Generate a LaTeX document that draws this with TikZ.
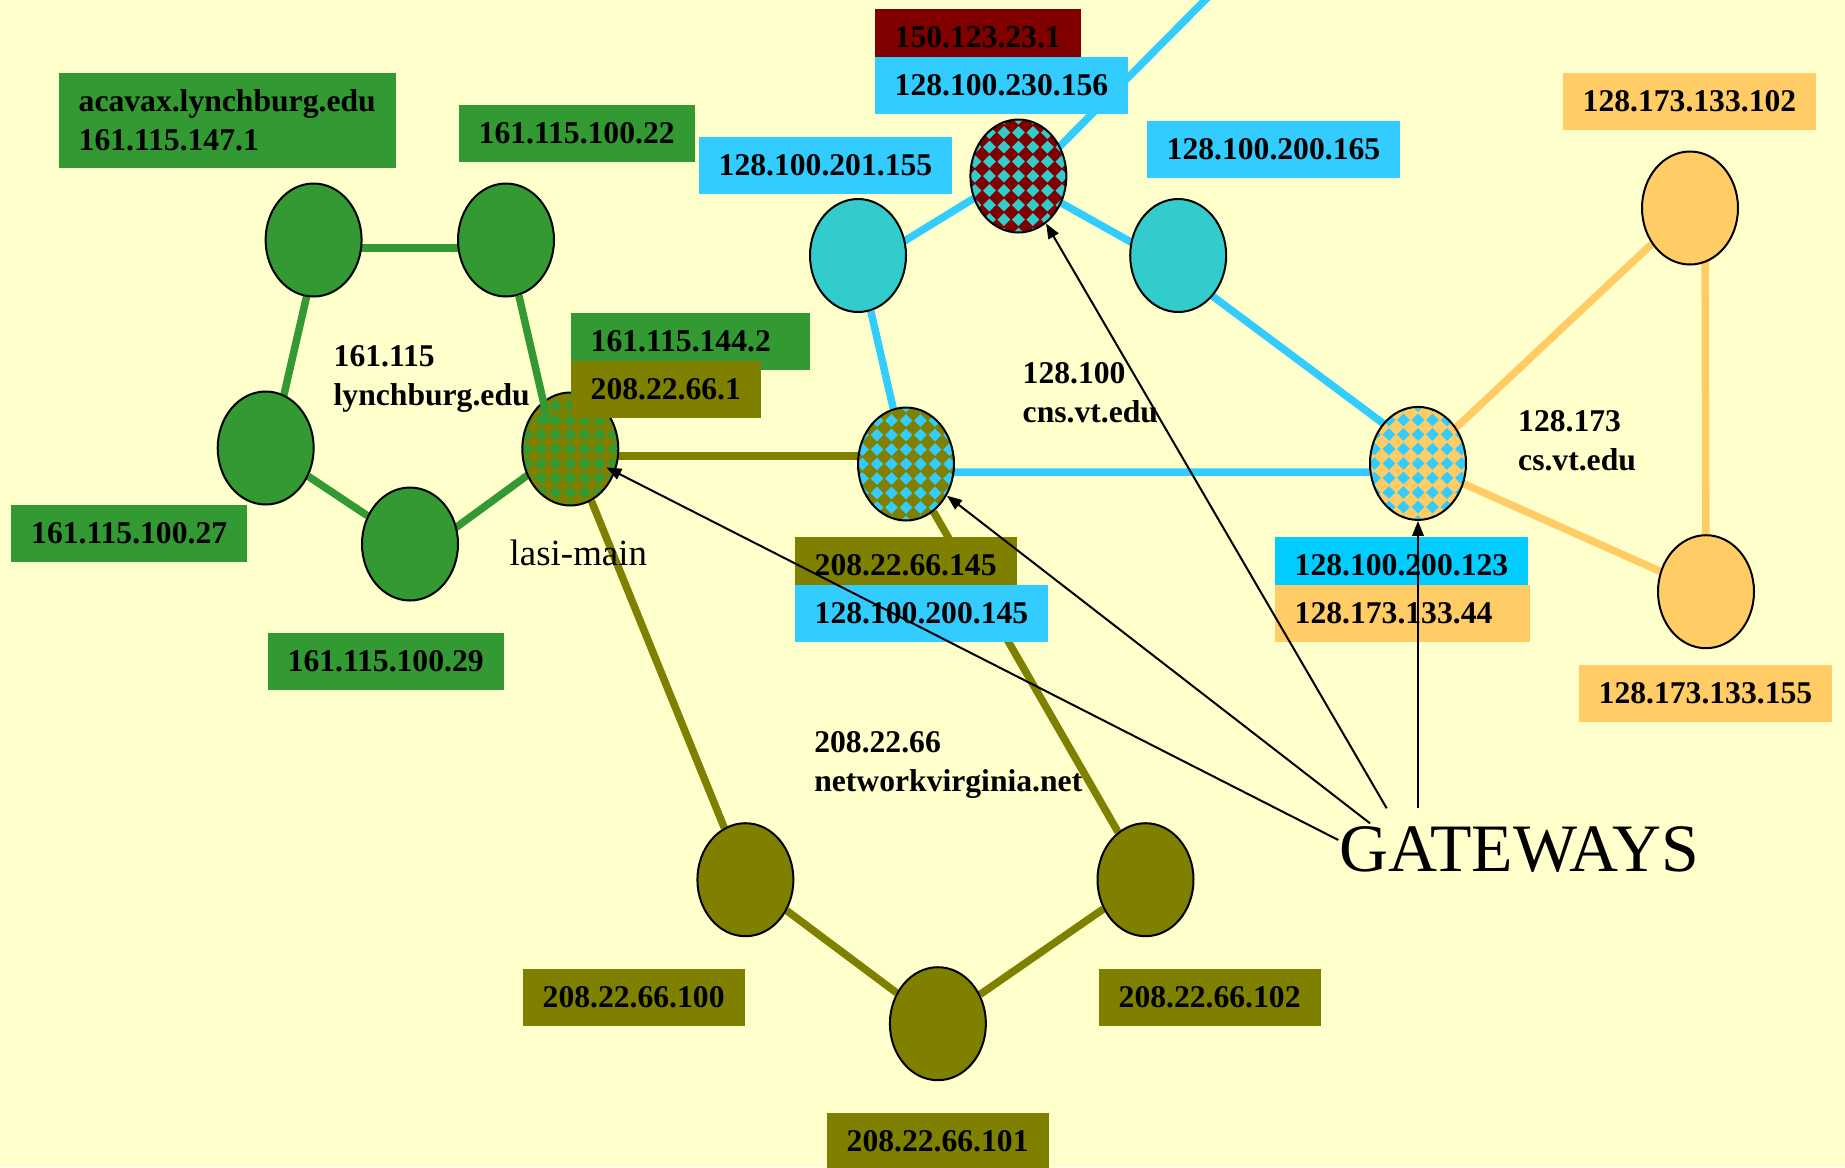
\documentclass[tikz,border=0pt]{standalone}
\usepackage{fontspec}
\setmainfont{Liberation Serif}
\usetikzlibrary{shapes.geometric,arrows.meta,calc}
\pgfdeclarelayer{background}
\pgfsetlayers{background,main}

\definecolor{paper}{HTML}{FFFFCC}
\definecolor{netgreen}{HTML}{339933}
\definecolor{netolive}{HTML}{808000}
\definecolor{netcyan}{HTML}{33CCFF}
\definecolor{netteal}{HTML}{33CCCC}
\definecolor{netmaroon}{HTML}{800000}
\definecolor{netorange}{HTML}{FFCC66}
\definecolor{netsky}{HTML}{00CCFF}

\tikzset{
  host/.style={ellipse, draw=black, line width=0.2mm, minimum width=9.6mm,
    minimum height=11.3mm, inner sep=0pt},
  checker/.style 2 args={host, fill=#1, path picture={
    \begin{scope}[shift={(path picture bounding box.center)}]
      \foreach \i in {-4,...,4} \foreach \j in {-5,...,5} {
        \fill[#2] (\i*1.45mm,\j*1.45mm) +(0,0.64mm) -- +(0.64mm,0)
          -- +(0,-0.64mm) -- +(-0.64mm,0) -- cycle;
      }
    \end{scope}}},
  link/.style={draw=#1, line width=0.75mm},
  pointer/.style={draw=black, line width=0.2mm,
    -{Triangle[length=1.5mm,width=1.15mm]}},
  addr/.style={fill=#1, anchor=north west, inner xsep=2mm, inner ysep=0pt,
    minimum height=5.7mm, font=\bfseries\fontsize{9}{11.1}\selectfont},
  netname/.style={anchor=north west, inner sep=0pt, align=left,
    font=\bfseries\fontsize{9}{11.1}\selectfont},
}

\begin{document}
\begin{tikzpicture}[x=0.1mm,y=-0.1mm]
\useasboundingbox (0,0) rectangle (1845,1167);
\clip (0,0) rectangle (1845,1167);

% hosts of lynchburg.edu
\node[host, fill=netgreen] (G1) at (313.6,240) {};
\node[host, fill=netgreen] (G2) at (506,240) {};
\node[host, fill=netgreen] (G3) at (265.7,448) {};
\node[host, fill=netgreen] (G4) at (410,544) {};
\node[checker={netolive}{netgreen}] (lasi) at (570.3,449) {};

% hosts of cns.vt.edu
\node[host, fill=netteal] (C1) at (858,255.5) {};
\node[checker={netmaroon}{netteal}] (C2) at (1018.4,176) {};
\node[host, fill=netteal] (C3) at (1178.2,255.5) {};
\node[checker={netolive}{netcyan}] (oc) at (906,464) {};
\node[checker={netorange}{netcyan}] (ocs) at (1418,463.4) {};

% hosts of cs.vt.edu
\node[host, fill=netorange] (O1) at (1690,208) {};
\node[host, fill=netorange] (O2) at (1706,591.7) {};

% hosts of networkvirginia.net
\node[host, fill=netolive] (V1) at (745.4,879.7) {};
\node[host, fill=netolive] (V2) at (937.9,1023.7) {};
\node[host, fill=netolive] (V3) at (1145.5,879.7) {};

\coordinate (uplink) at (1215,-10);

\begin{pgfonlayer}{background}
  \fill[paper] (0,0) rectangle (1845,1167);
  % lynchburg.edu ring
  \draw[link=netgreen] ($(G1)+(0,8)$) -- ($(G2)+(0,8)$);
  \draw[link=netgreen] ($(G1)+(6,0)$) -- ($(G3)+(6,0)$);
  \draw[link=netgreen] (G3) -- (G4);
  \draw[link=netgreen] ($(G4)+(0,17)$) -- ($(lasi)+(0,-5)$);
  % networkvirginia.net
  \draw[link=netolive] ($(lasi)+(0,7)$) -- ($(oc)+(0,-8)$);
  \draw[link=netolive] (lasi) -- (V1);
  \draw[link=netolive] (oc) -- (V3);
  \draw[link=netolive] (V1) -- (V2);
  \draw[link=netolive] (V2) -- (V3);
  % cns.vt.edu
  \draw[link=netcyan] ($(C1)+(0,14)$) -- ($(C2)+(0,-5)$);
  \draw[link=netcyan] ($(C2)+(0,3)$) -- ($(C3)+(0,13)$);
  \draw[link=netcyan] ($(C2)+(0,12)$) -- (uplink);
  \draw[link=netcyan] (C1) -- (oc);
  \draw[link=netcyan] ($(C3)+(0,15)$) -- ($(ocs)+(0,-14)$);
  \draw[link=netcyan] ($(oc)+(0,8)$) -- ($(ocs)+(0,8.6)$);
  % cs.vt.edu
  \draw[link=netorange] (ocs) -- (O1);
  \draw[link=netorange] (ocs) -- (O2);
  \draw[link=netorange] ($(O1)+(15,0)$) -- (O2);
\end{pgfonlayer}

% the lynchburg.edu link that runs onto lasi-main
\draw[link=netgreen] (G2) -- ($(lasi)+(-22,-26)$);

% address labels
\node[addr=netgreen, minimum height=9.5mm, align=left] (acavax) at (58,72)
  {acavax.lynchburg.edu\\161.115.147.1};
\node[addr=netgreen] (a22) at (458,104) {161.115.100.22};
\node[addr=netgreen, text width=19.96mm, align=left] (a1442) at (570,312) {161.115.144.2};
\node[addr=netolive] (v661) at (570,360) {208.22.66.1};
\node[addr=netgreen] (a27) at (10.5,504) {161.115.100.27};
\node[addr=netgreen] (a29) at (267,632) {161.115.100.29};
\node[addr=netmaroon] (m1) at (874,8) {150.123.23.1};
\node[addr=netcyan] (c156) at (874,56) {128.100.230.156};
\node[addr=netcyan] (c155) at (698,136) {128.100.201.155};
\node[addr=netcyan] (c165) at (1146,120) {128.100.200.165};
\node[addr=netorange] (o102) at (1562,72) {128.173.133.102};
\node[addr=netsky] (c123) at (1274,536) {128.100.200.123};
\node[addr=netorange, text width=21.5mm, align=left] (o44) at (1274,584) {128.173.133.44};
\node[addr=netorange] (o155) at (1578,664) {128.173.133.155};
\node[addr=netolive] (v145) at (794,536) {208.22.66.145};
\node[addr=netcyan] (c145) at (794,584) {128.100.200.145};
\node[addr=netolive] (v100) at (522,968) {208.22.66.100};
\node[addr=netolive] (v102) at (1098,968) {208.22.66.102};
\node[addr=netolive] (v101) at (826,1112) {208.22.66.101};

% network names
\node[netname] (n161) at (333,345.3) {161.115\\lynchburg.edu};
\node[netname] (n128) at (1022,362) {128.100\\cns.vt.edu};
\node[netname] (n173) at (1517.5,409.4) {128.173\\cs.vt.edu};
\node[netname] (n208) at (813.6,730.3) {208.22.66\\networkvirginia.net};
\node[anchor=base west, inner sep=0pt, font=\fontsize{10.5}{12}\selectfont]
  (lasiname) at (509,565) {lasi-main};

% gateways
\node[anchor=base west, inner sep=0pt, font=\fontsize{19.3}{22}\selectfont]
  (gw) at (1339,871.7) {GATEWAYS};
\coordinate (gw1) at (1338.3,840);
\coordinate (gw2) at (1370,823.3);
\coordinate (gw3) at (1386.7,808.3);
\coordinate (gw4) at (1418,808.3);
\draw[pointer, shorten >=-1mm] (gw1) -- (lasi);
\draw[pointer] (gw2) -- (oc);
\draw[pointer] (gw3) -- (C2);
\draw[pointer] (gw4) -- (ocs);
\end{tikzpicture}
\end{document}
